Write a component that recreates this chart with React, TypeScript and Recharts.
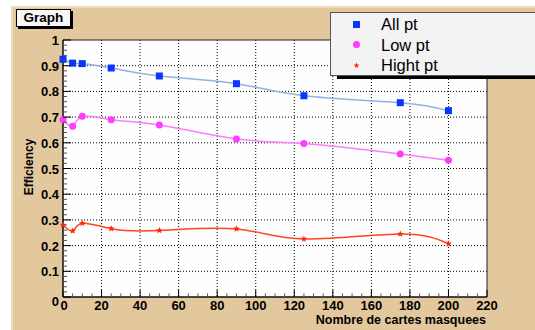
import React from 'react';
import { LineChart, Line, XAxis, YAxis, CartesianGrid, ReferenceArea } from 'recharts';

// points (nombre de cartes masquees)
const cartes = [0, 5, 10, 25, 50, 90, 125, 175, 200];
const allPt = [0.925, 0.910, 0.908, 0.891, 0.860, 0.830, 0.783, 0.756, 0.725];
const lowPt = [0.691, 0.664, 0.703, 0.690, 0.669, 0.615, 0.597, 0.556, 0.532];
const highPt = [0.280, 0.257, 0.287, 0.266, 0.259, 0.265, 0.226, 0.245, 0.207];

const seriesNames = ['All pt', 'Low pt', 'Hight pt'];

// axes
const xMajor = [0, 20, 40, 60, 80, 100, 120, 140, 160, 180, 200, 220];
const yMajor = [0, 0.1, 0.2, 0.3, 0.4, 0.5, 0.6, 0.7, 0.8, 0.9, 1];
const yMajorLabels = ['0', '0.1', '0.2', '0.3', '0.4', '0.5', '0.6', '0.7', '0.8', '0.9', '1'];
const xMinor = Array.from({ length: 45 }, (_, i) => i * 5);
const yMinor = Array.from({ length: 51 }, (_, i) => Math.round(i * 2) / 100);

const data = cartes.map((c, i) => ({ x: c, all: allPt[i], low: lowPt[i], high: highPt[i] }));

const FONT = '"Liberation Sans", Arial, Helvetica, sans-serif';
const TAN = '#e3c89d';

const BLUE = '#0a36ff';
const BLUE_LINE = '#94b1e2';
const MAGENTA = '#ff3cff';
const MAGENTA_LINE = '#ff7cff';
const RED = '#ff2a00';
const RED_LINE = '#ff4422';

const starPath = (cx: number, cy: number, r: number) => {
  const pts: string[] = [];
  for (let i = 0; i < 10; i++) {
    const a = -Math.PI / 2 + (i * Math.PI) / 5;
    const rr = i % 2 === 0 ? r : r * 0.45;
    pts.push(`${cx + rr * Math.cos(a)},${cy + rr * Math.sin(a)}`);
  }
  return 'M' + pts.join('L') + 'Z';
};

const SquareDot = (props: any) => {
  const { cx, cy } = props;
  if (cx == null || cy == null) return null;
  return <rect x={cx - 3.5} y={cy - 3.5} width={7} height={7} fill={BLUE} />;
};
const CircleDot = (props: any) => {
  const { cx, cy } = props;
  if (cx == null || cy == null) return null;
  return <circle cx={cx} cy={cy} r={3.5} fill={MAGENTA} />;
};
const StarDot = (props: any) => {
  const { cx, cy } = props;
  if (cx == null || cy == null) return null;
  return <path d={starPath(cx, cy, 3.5)} fill={RED} />;
};

const XTick = (props: any) => {
  const { x, y, payload } = props;
  const v = payload.value;
  const major = xMajor.includes(v);
  return (
    <g>
      <line x1={x} x2={x} y1={y} y2={y - (major ? 7 : 3.5)} stroke={major ? '#000' : '#555'} strokeWidth={1} />
      {major && (
        <text x={v === 0 ? x + 1 : x} y={y + 13} textAnchor="middle" fontFamily={FONT} fontWeight="bold" fontSize={13} fill="#000">
          {v}
        </text>
      )}
    </g>
  );
};

const YTick = (props: any) => {
  const { x, y, payload } = props;
  const v = payload.value;
  const idx = yMajor.findIndex((m) => Math.abs(m - v) < 1e-6);
  const major = idx >= 0;
  return (
    <g>
      <line x1={x} x2={x + (major ? 8 : 4)} y1={y} y2={y} stroke={major ? '#000' : '#555'} strokeWidth={1} />
      {major && (
        <text x={x - 4} y={y + (v === 0 ? 9 : 5)} textAnchor="end" fontFamily={FONT} fontWeight="bold" fontSize={13} fill="#000">
          {yMajorLabels[idx]}
        </text>
      )}
    </g>
  );
};

const legendMarkers = [
  <rect key="a" x={3} y={3} width={7} height={7} fill={BLUE} />,
  <circle key="b" cx={6.5} cy={6.5} r={3.5} fill={MAGENTA} />,
  <path key="c" d={starPath(6.5, 6.5, 3)} fill={RED} />,
];

export default function App() {
  return (
    <div style={{ position: 'absolute', left: 0, top: 0, width: 535, height: 330, background: '#fff', overflow: 'hidden', fontFamily: FONT }}>
      {/* canvas background */}
      <div style={{ position: 'absolute', left: 11, top: 6, right: 0, bottom: 0, background: TAN, borderTop: '2px solid #efdcbf', borderLeft: '2px solid #efdcbf' }} />

      <div style={{ position: 'absolute', left: 0, top: 0 }}>
        <LineChart width={535} height={330} data={data} margin={{ top: 40, right: 48, left: 0, bottom: 0 }}>
          <CartesianGrid
            fill="#fefefe"
            stroke="#000"
            strokeDasharray="1 2"
            verticalValues={xMajor.slice(1, -1)}
            horizontalValues={yMajor.slice(1, -1)}
          />
          <XAxis
            dataKey="x"
            type="number"
            domain={[0, 220]}
            ticks={xMinor}
            interval={0}
            height={33}
            tickSize={0}
            tickMargin={0}
            tickLine={false}
            tick={<XTick />}
            axisLine={{ stroke: '#000', strokeWidth: 1 }}
          />
          <YAxis
            type="number"
            domain={[0, 1]}
            ticks={yMinor}
            interval={0}
            width={63}
            tickSize={0}
            tickMargin={0}
            tickLine={false}
            tick={<YTick />}
            axisLine={{ stroke: '#000', strokeWidth: 1 }}
          />
          <ReferenceArea x1={0} x2={220} y1={0} y2={1} fill="none" stroke="#222" strokeWidth={1} />
          <Line type="natural" dataKey="all" name={seriesNames[0]} stroke={BLUE_LINE} strokeWidth={1.5} dot={<SquareDot />} activeDot={false} isAnimationActive={false} />
          <Line type="natural" dataKey="low" name={seriesNames[1]} stroke={MAGENTA_LINE} strokeWidth={1.5} dot={<CircleDot />} activeDot={false} isAnimationActive={false} />
          <Line type="natural" dataKey="high" name={seriesNames[2]} stroke={RED_LINE} strokeWidth={1.5} dot={<StarDot />} activeDot={false} isAnimationActive={false} />
        </LineChart>
      </div>

      {/* y title */}
      <div style={{ position: 'absolute', left: 29, top: 167, transform: 'translate(-50%, -50%) rotate(-90deg)', fontSize: 12, fontWeight: 'bold', whiteSpace: 'nowrap', color: '#000' }}>
        Efficiency
      </div>
      {/* x title */}
      <div style={{ position: 'absolute', right: 535 - 486, top: 315, fontSize: 12.5, lineHeight: '10px', fontWeight: 'bold', whiteSpace: 'nowrap', color: '#000' }}>
        Nombre de cartes masquees
      </div>

      {/* title box */}
      <div style={{ position: 'absolute', left: 18, top: 11, width: 55, height: 18, background: '#000' }} />
      <div style={{ position: 'absolute', left: 16, top: 9, width: 53, height: 16, background: '#f6f6f6', border: '1px solid #000', fontSize: 13.5, fontWeight: 'bold', lineHeight: '16px', textAlign: 'center', color: '#000' }}>
        Graph
      </div>

      {/* legend */}
      <div style={{ position: 'absolute', left: 337, top: 17, width: 210, height: 62, background: '#000' }} />
      <div style={{ position: 'absolute', left: 330, top: 12, width: 210, height: 62, background: '#f3f3f3', border: '1px solid #555' }}>
        {seriesNames.map((name, i) => (
          <div key={name} style={{ position: 'absolute', left: 0, top: 1 + i * 20.5, height: 20, width: 200 }}>
            <svg width={13} height={13} style={{ position: 'absolute', left: 19, top: 3.5 }}>
              {legendMarkers[i]}
            </svg>
            <span style={{ position: 'absolute', left: 50, top: 0, fontSize: 16.5, lineHeight: '20px', color: '#000', whiteSpace: 'nowrap' }}>{name}</span>
          </div>
        ))}
      </div>
    </div>
  );
}
